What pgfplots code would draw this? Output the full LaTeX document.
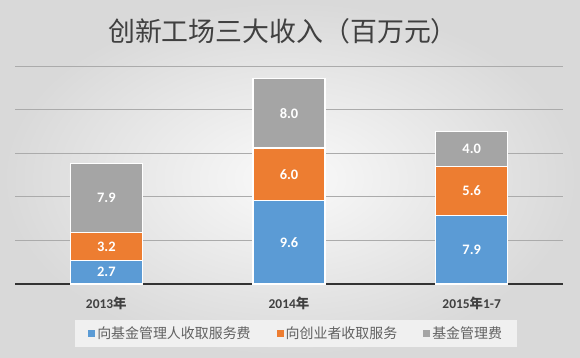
\documentclass[border=0pt]{standalone}
\usepackage{pgfplots}
\pgfplotsset{compat=1.18}
\usepackage{fontspec}
\setmainfont{Carlito}
\newfontfamily\cjk{Noto Sans CJK SC}
\definecolor{cblue}{HTML}{5B9BD5}
\definecolor{corange}{HTML}{ED7D31}
\definecolor{cgray}{HTML}{A5A5A5}
\definecolor{txt}{HTML}{404040}
\begin{document}
\begin{tikzpicture}[x=1bp,y=1bp]
\shade[inner color=white!98!black, outer color=black!15] (0,0) rectangle (580,357);
\node[font=\cjk\fontsize{27}{30}\selectfont, text=txt] at (283,326) {创新工场三大收入（百万元）};
\begin{axis}[
  at={(15bp,73bp)}, anchor=south west,
  width=548bp, height=218bp, scale only axis,
  ybar stacked, bar width=72bp,
  xmin=-0.5, xmax=2.5, ymin=0, ymax=25,
  xtick={0,1,2},
  xticklabels={2013{\cjk 年},2014{\cjk 年},2015{\cjk 年}1-7},
  ytick={0,5,10,15,20,25}, yticklabels={},
  major tick length=0pt,
  ymajorgrids, grid style={draw=black!33, line width=0.9bp},
  axis x line*=bottom, axis y line*=left,
  y axis line style={draw=none},
  x axis line style={draw=black!80, line width=2bp},
  xticklabel style={font=\bfseries\fontsize{13.5}{15}\selectfont, text=txt, yshift=-9bp},
  legend style={at={(0.513,-0.227)}, anchor=center, legend columns=3,
    draw=none, fill=black!6, font=\cjk\fontsize{14}{16}\selectfont, text=black!62,
    inner xsep=13bp, inner ysep=5bp,
    nodes={inner xsep=2bp},
    /tikz/every even column/.append style={column sep=24bp}},
  legend image code/.code={\fill[#1,draw=none] (0bp,-3.5bp) rectangle (7bp,3.5bp);},
]
\addplot[fill=cblue, draw=white, line width=1.2bp] coordinates {(0,2.7) (1,9.6) (2,7.9)};
\addplot[fill=corange, draw=white, line width=1.2bp] coordinates {(0,3.2) (1,6.0) (2,5.6)};
\addplot[fill=cgray, draw=white, line width=1.2bp] coordinates {(0,7.9) (1,8.0) (2,4.0)};
\legend{向基金管理人收取服务费,向创业者收取服务,基金管理费}
\end{axis}
\begin{axis}[
  at={(15bp,73bp)}, anchor=south west,
  width=548bp, height=218bp, scale only axis,
  xmin=-0.5, xmax=2.5, ymin=0, ymax=25, hide axis,
]
\addplot[draw=none, nodes near coords, point meta=explicit symbolic,
  nodes near coords style={anchor=center, text=white, font=\bfseries\fontsize{14.5}{16}\selectfont}]
  coordinates {(0,1.35)[2.7] (0,4.3)[3.2] (0,9.85)[7.9]
               (1,4.8)[9.6] (1,12.6)[6.0] (1,19.6)[8.0]
               (2,3.95)[7.9] (2,10.7)[5.6] (2,15.5)[4.0]};
\end{axis}
\end{tikzpicture}
\end{document}
